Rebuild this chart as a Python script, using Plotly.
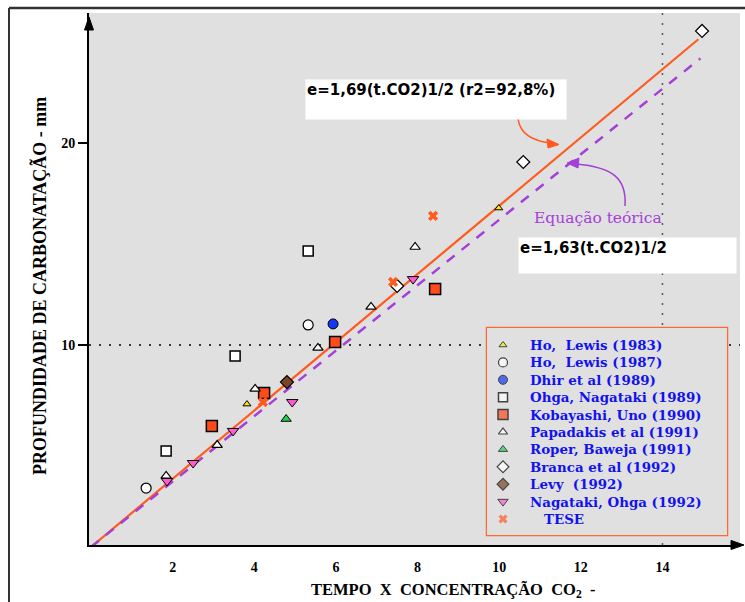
import plotly.graph_objects as go

# ---------------- data ----------------
ho83_x = [3.82, 9.99]
ho83_y = [7.08, 16.79]

ho87_x = [1.35, 5.32]
ho87_y = [2.92, 11.0]

dhir_x = [5.93]
dhir_y = [11.05]

ohga89_x = [1.84, 3.53, 5.32]
ohga89_y = [4.76, 9.46, 14.66]

koba_x = [2.96, 4.24, 5.98, 8.43]
koba_y = [5.99, 7.63, 10.15, 12.78]

papa_x = [1.84, 3.09, 4.02, 5.56, 6.86, 7.94]
papa_y = [3.52, 5.05, 7.83, 9.86, 11.89, 14.86]

roper_x = [4.78]
roper_y = [6.34]

branca_x = [7.50, 10.59, 14.97]
branca_y = [12.93, 19.07, 25.56]

levy_x = [4.80]
levy_y = [8.17]

naga92_x = [1.86, 2.50, 3.48, 4.93, 7.89]
naga92_y = [3.27, 4.16, 5.75, 7.18, 13.27]

tese_x = [4.21, 7.40, 8.38]
tese_y = [7.18, 13.13, 16.40]

fit_x = [0.0, 14.88]        # e = 1,69 (t.CO2)^1/2
fit_y = [0.0, 25.15]
theo_x = [0.0, 14.93]       # e = 1,63 (t.CO2)^1/2
theo_y = [0.0, 24.20]

x_ticks = [2, 4, 6, 8, 10, 12, 14]
y_ticks = [10, 20]

# ---------------- helpers for layout (pixel -> paper) ----------------
L, R, T, B = 89, 740, 13, 545
W, H = R - L, B - T


def px(x):
    return (x - L) / W


def py(y):
    return (B - y) / H


def P(x, y):
    return f"{px(x):.4f},{py(y):.4f}"


ORANGE = "#FF5A1F"
PURPLE = "#A43FD8"
SERIF = "Liberation Serif"

fig = go.Figure()

fig.add_trace(go.Scatter(x=fit_x, y=fit_y, mode="lines", showlegend=False,
                         line=dict(color=ORANGE, width=2.2), hoverinfo="skip"))
fig.add_trace(go.Scatter(x=theo_x, y=theo_y, mode="lines", showlegend=False,
                         line=dict(color=PURPLE, width=2.5, dash="10px,9px"),
                         hoverinfo="skip"))

series = [
    ("Ho,  Lewis (1983)", ho83_x, ho83_y, "triangle-up", 7, "#FFE600", 1),
    ("Ho,  Lewis (1987)", ho87_x, ho87_y, "circle", 10, "white", 1.2),
    ("Dhir et al (1989)", dhir_x, dhir_y, "circle", 10, "#1438F0", 1),
    ("Ohga, Nagataki (1989)", ohga89_x, ohga89_y, "square", 10, "white", 1.5),
    ("Kobayashi, Uno (1990)", koba_x, koba_y, "square", 11, "#FF4A1A", 1.5),
    ("Papadakis et al (1991)", papa_x, papa_y, "triangle-up", 9, "white", 1.2),
    ("Roper, Baweja (1991)", roper_x, roper_y, "triangle-up", 9, "#22D050", 1),
    ("Branca et al (1992)", branca_x, branca_y, "diamond", 10, "white", 1.2),
    ("Levy  (1992)", levy_x, levy_y, "diamond", 10, "#7A4526", 1.2),
    ("Nagataki, Ohga (1992)", naga92_x, naga92_y, "triangle-down", 10, "#FF5BD0", 1),
    ("TESE", tese_x, tese_y, "x", 9, ORANGE, 0),
]
for name, xs, ys, sym, size, color, lw in series:
    fig.add_trace(go.Scatter(
        x=xs, y=ys, mode="markers", name=name, showlegend=False,
        marker=dict(symbol=sym, size=size, color=color,
                    line=dict(color="black", width=lw))))

# ---------------- hand-built legend (own little subplot) ----------------
LEG_L, LEG_R, LEG_T, LEG_B = 487, 727, 328, 535
LEG_ROW0, LEG_STEP = 17, 17.4
leg_rows = [LEG_ROW0 + LEG_STEP * i for i in range(len(series))]

fig.add_trace(go.Scatter(
    x=[16] * len(series), y=leg_rows, xaxis="x2", yaxis="y2",
    mode="markers", showlegend=False, hoverinfo="skip",
    marker=dict(symbol=[s[3] for s in series],
                size=[max(7, s[4] - 1) for s in series],
                color=[s[5] for s in series],
                line=dict(color="black", width=[s[6] for s in series]))))

shapes = [
    # dotted reference lines
    dict(type="line", xref="paper", yref="y", x0=0, x1=1, y0=10, y1=10,
         line=dict(color="black", width=1.5, dash="2px,8px"), layer="below"),
    dict(type="line", xref="x", yref="paper", x0=14, x1=14, y0=0, y1=1,
         line=dict(color="#555555", width=1.5, dash="2px,8px"), layer="below"),
    # legend box
    dict(type="rect", xref="paper", yref="paper", x0=px(LEG_L), x1=px(LEG_R),
         y0=py(LEG_B), y1=py(LEG_T), fillcolor="#FFE8BA",
         line=dict(color="#FF6A33", width=2.5), layer="below"),
    # outer frame
    dict(type="line", xref="paper", yref="paper", x0=px(9), x1=px(9),
         y0=py(8), y1=py(602), line=dict(color="#333333", width=2)),
    dict(type="line", xref="paper", yref="paper", x0=px(9), x1=px(745),
         y0=py(8), y1=py(8), line=dict(color="#333333", width=2.5)),
    # axis arrow heads
    dict(type="path", xref="paper", yref="paper",
         path=f"M {P(89, 17)} L {P(84.5, 30)} L {P(93.5, 30)} Z",
         fillcolor="black", line=dict(color="black", width=1)),
    dict(type="path", xref="paper", yref="paper",
         path=f"M {P(744, 545)} L {P(731, 540.5)} L {P(731, 549.5)} Z",
         fillcolor="black", line=dict(color="black", width=1)),
    # orange curved arrow
    dict(type="path", xref="paper", yref="paper",
         path=f"M {P(518, 119)} Q {P(521, 140)} {P(551, 143)}",
         line=dict(color=ORANGE, width=1.5)),
    dict(type="path", xref="paper", yref="paper",
         path=f"M {P(559, 144.5)} L {P(547, 139)} L {P(548, 148)} Z",
         fillcolor=ORANGE, line=dict(color=ORANGE, width=1)),
    # purple curved arrow
    dict(type="path", xref="paper", yref="paper",
         path=f"M {P(625, 206)} C {P(627, 178)} {P(612, 167)} {P(576, 164)}",
         line=dict(color=PURPLE, width=1.5)),
    dict(type="path", xref="paper", yref="paper",
         path=f"M {P(567, 163)} L {P(579, 158)} L {P(578, 168)} Z",
         fillcolor=PURPLE, line=dict(color=PURPLE, width=1)),
]

annotations = [
    dict(xref="paper", yref="paper", x=px(305), y=py(79), xanchor="left",
         yanchor="top", width=258, height=37, align="left", valign="top",
         bgcolor="white", borderpad=1, showarrow=False,
         text="e=1,69(t.CO2)1/2 (r2=92,8%)",
         font=dict(family="DejaVu Sans", size=15, color="black", weight="bold")),
    dict(xref="paper", yref="paper", x=px(518), y=py(237), xanchor="left",
         yanchor="top", width=215, height=33, align="left", valign="top",
         bgcolor="white", borderpad=1, showarrow=False,
         text="e=1,63(t.CO2)1/2",
         font=dict(family="DejaVu Sans", size=15, color="black", weight="bold")),
    dict(xref="paper", yref="paper", x=px(598), y=py(218), xanchor="center",
         yanchor="middle", showarrow=False, text="Equação teórica",
         font=dict(family="DejaVu Serif", size=15.5, color=PURPLE)),
    dict(xref="paper", yref="paper", x=px(453), y=py(590), xanchor="center",
         yanchor="middle", showarrow=False,
         text="TEMPO\u00a0\u00a0X\u00a0\u00a0CONCENTRAÇÃO\u00a0\u00a0CO<sub>2</sub>\u00a0\u00a0-",
         font=dict(family=SERIF, size=16.5, color="black", weight="bold")),
    dict(xref="paper", yref="paper", x=px(40), y=py(286), xanchor="center",
         yanchor="middle", showarrow=False, textangle=-90,
         text="PROFUNDIDADE DE CARBONATAÇÃO - mm",
         font=dict(family=SERIF, size=18, color="black", weight="bold")),
]
for (name, *_), yy in zip(series, leg_rows):
    label = ("\u00a0\u00a0\u00a0" + name) if name == "TESE" else name
    annotations.append(dict(
        xref="x2", yref="y2", x=41, y=yy, xanchor="left", yanchor="middle",
        showarrow=False, text=label.replace("  ", "\u00a0\u00a0"),
        font=dict(family="DejaVu Serif", size=13.4, color="#1212F0",
                  weight="bold")))

fig.update_layout(
    width=745, height=602,
    margin=dict(l=L, r=745 - R, t=T, b=602 - B),
    paper_bgcolor="white", plot_bgcolor="#E0E0E0",
    showlegend=False,
    shapes=shapes, annotations=annotations,
    xaxis=dict(range=[-0.05, 15.9], tickvals=x_ticks, showgrid=False,
               zeroline=False, showline=True, linecolor="black", linewidth=2,
               ticks="", ticklabelstandoff=8,
               tickfont=dict(family=SERIF, size=14, color="black", weight="bold")),
    yaxis=dict(range=[0.1, 26.45], tickvals=y_ticks, showgrid=False,
               zeroline=False, showline=True, linecolor="black", linewidth=2,
               ticks="outside", ticklen=9, tickwidth=1.5, tickcolor="black",
               tickfont=dict(family=SERIF, size=14, color="black", weight="bold")),
    xaxis2=dict(domain=[px(LEG_L), px(LEG_R)], range=[0, LEG_R - LEG_L],
                anchor="y2", visible=False, fixedrange=True),
    yaxis2=dict(domain=[py(LEG_B), py(LEG_T)], range=[LEG_B - LEG_T, 0],
                anchor="x2", visible=False, fixedrange=True),
)

fig.write_html("out.html")
